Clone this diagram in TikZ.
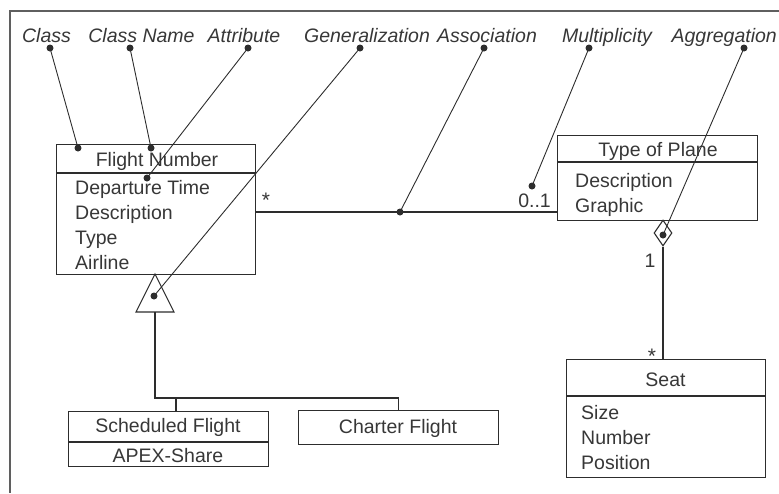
\documentclass[tikz,border=0pt]{standalone}
\usepackage{fontspec}
\setmainfont{Liberation Sans}
\usetikzlibrary{shapes.geometric}
\definecolor{umlline}{RGB}{45,45,45}
\definecolor{umltext}{RGB}{55,55,55}
\definecolor{umlframe}{RGB}{95,95,95}

\tikzset{
  classbox/.style={draw=umlline, line width=1.1pt, inner sep=0pt, anchor=north west},
  divider/.style={umlline, line width=1.1pt},
  classname/.style={text=umltext, font=\fontsize{19.5}{25}\selectfont, inner sep=0pt, anchor=base},
  attrs/.style={text=umltext, font=\fontsize{19.5}{25}\selectfont, inner sep=0pt, align=left, anchor=north west},
  calloutlabel/.style={text=umltext, font=\fontsize{19.5}{22}\selectfont\itshape, inner sep=0pt, anchor=base},
  multlabel/.style={text=umltext, font=\fontsize{19.5}{22}\selectfont, inner sep=0pt},
  tipdot/.style={circle, fill=umlline, inner sep=0pt, minimum size=7pt},
  leaderline/.style={umlline, line width=0.9pt},
  connector/.style={umlline, line width=1.1pt}
}

\begin{document}
\begin{tikzpicture}[x=1pt, y=-1pt]
  \useasboundingbox (0,0) rectangle (779,493);

  % Frame
  \draw[umlframe, line width=1.4pt] (779,11) -- (10,11) -- (10,493);

  % Classes
  \node[classbox, minimum width=199, minimum height=130] (flight) at (56,144) {};
  \draw[divider] ([yshift=-29pt]flight.north west) -- ([yshift=-29pt]flight.north east);
  \node[classname] (flightname) at (157,166) {Flight Number};
  \node[attrs] (flightattr) at (75,180) {Departure Time\\Description\\Type\\Airline};

  \node[classbox, minimum width=200, minimum height=85] (plane) at (557,135) {};
  \draw[divider] ([yshift=-27pt]plane.north west) -- ([yshift=-27pt]plane.north east);
  \node[classname] (planename) at (658,156) {Type of Plane};
  \node[attrs] (planeattr) at (575,173) {Description\\Graphic};

  \node[classbox, minimum width=199, minimum height=118] (seat) at (566,359) {};
  \draw[divider] ([yshift=-37pt]seat.north west) -- ([yshift=-37pt]seat.north east);
  \node[classname] (seatname) at (665.5,386) {Seat};
  \node[attrs] (seatattr) at (581,405) {Size\\Number\\Position};

  \node[classbox, minimum width=200, minimum height=55] (sched) at (68,411) {};
  \draw[divider] ([yshift=-31pt]sched.north west) -- ([yshift=-31pt]sched.north east);
  \node[classname] (schedname) at (168,432) {Scheduled Flight};
  \node[classname] (schedattr) at (168,462) {APEX-Share};

  \node[classbox, minimum width=200, minimum height=34] (charter) at (298,410) {};
  \node[classname] (chartername) at (398,433) {Charter Flight};

  % Association
  \node[tipdot] (assocdot) at (400,212) {};
  \draw[connector] (flight.east |- assocdot) -- (plane.west |- assocdot);
  \node[multlabel, font=\fontsize{21}{21}\selectfont] (assocmany) at (266,200) {*};
  \node[multlabel, anchor=base east] (assocone) at (551,207) {0..1};

  % Aggregation
  \node[diamond, draw=umlline, line width=1.1pt, fill=white, inner sep=0pt,
        minimum width=18, minimum height=26] (agg) at (663,233) {};
  \draw[connector] (agg.south) -- (agg.south |- seat.north);
  \node[multlabel, anchor=base] (aggone) at (650,267) {1};
  \node[multlabel, font=\fontsize{21}{21}\selectfont] (aggmany) at (652,356) {*};

  % Generalization
  \coordinate (genapex) at (155,274);
  \coordinate (genbase) at (155,312);
  \coordinate (genjoin) at (155,398);
  \coordinate (schedtap) at (176,398);
  \draw[connector] (genapex) -- ++(-19,38) -- ++(38,0) -- cycle;
  \draw[connector] (genbase) -- (genjoin) -- (genjoin -| charter.north) -- (charter.north);
  \draw[connector] (schedtap) -- (schedtap |- sched.north);

  % Callouts
  \node[calloutlabel] (lclass) at (46.5,42) {Class};
  \node[calloutlabel] (lclassname) at (141.5,42) {Class Name};
  \node[calloutlabel] (lattr) at (244,42) {Attribute};
  \node[calloutlabel] (lgen) at (367,42) {Generalization};
  \node[calloutlabel] (lassoc) at (487,42) {Association};
  \node[calloutlabel] (lmult) at (607,42) {Multiplicity};
  \node[calloutlabel, anchor=base east] (lagg) at (777,42) {Aggregation};

  \node[tipdot] (dclass) at (50,48) {};
  \node[tipdot] (dclassname) at (130,48) {};
  \node[tipdot] (dattr) at (248,48) {};
  \node[tipdot] (dgen) at (360,48) {};
  \node[tipdot] (dassoc) at (484,48) {};
  \node[tipdot] (dmult) at (589,48) {};
  \node[tipdot] (dagg) at (744,48) {};

  \node[tipdot] (eclass) at (78,148) {};
  \node[tipdot] (eclassname) at (151,148) {};
  \node[tipdot] (eattr) at (147,178) {};
  \node[tipdot] (egen) at (154,296) {};
  \node[tipdot] (emult) at (532,186) {};
  \node[tipdot] (eagg) at (663,235) {};

  \draw[leaderline] (dclass.center) -- (eclass.center);
  \draw[leaderline] (dclassname.center) -- (eclassname.center);
  \draw[leaderline] (dattr.center) -- (eattr.center);
  \draw[leaderline] (dgen.center) -- (egen.center);
  \draw[leaderline] (dassoc.center) -- (assocdot.center);
  \draw[leaderline] (dmult.center) -- (emult.center);
  \draw[leaderline] (dagg.center) -- (eagg.center);
\end{tikzpicture}
\end{document}
